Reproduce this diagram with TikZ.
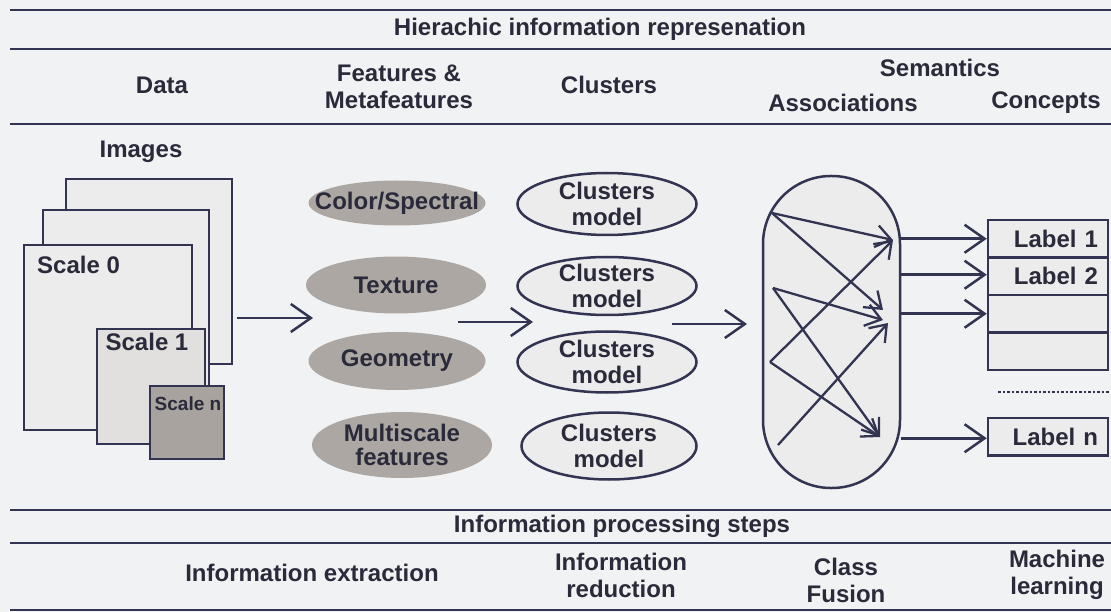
\documentclass[tikz,border=0pt]{standalone}
\usepackage{fontspec}
\setmainfont{Liberation Sans}
\usetikzlibrary{arrows.meta,calc,shapes.geometric}
\definecolor{ink}{RGB}{50,52,82}
\definecolor{txt}{RGB}{42,42,58}
\definecolor{bg}{RGB}{241,242,243}
\definecolor{featfill}{RGB}{172,167,162}
\definecolor{lightbox}{RGB}{236,236,237}
\definecolor{sonefill}{RGB}{226,224,222}
\definecolor{snfill}{RGB}{168,163,158}
\begin{document}
\begin{tikzpicture}[x=1pt,y=-1pt,
  every node/.style={font=\bfseries\fontsize{24}{27}\selectfont, text=txt},
  txtnode/.style={align=center, inner sep=0pt},
  rule/.style={draw=ink, line width=2.5pt},
  frame/.style={draw=ink, line width=2.5pt, fill=lightbox, rectangle, inner sep=0pt},
  feat/.style={ellipse, fill=featfill, inner sep=0pt},
  clus/.style={ellipse, draw=ink, line width=2.5pt, fill=lightbox, inner sep=0pt},
  arr/.style={draw=ink, line width=2.5pt, -{Straight Barb[length=20pt,width=28pt]}},
  iarr/.style={draw=ink, line width=2.3pt, -{Straight Barb[length=15pt,width=22pt]}},
  labbox/.style={rectangle, draw=ink, line width=2.5pt, fill=lightbox, minimum width=120pt, minimum height=37.5pt, text width=100pt, inner xsep=10pt, inner ysep=0pt, align=right}
]
\fill[bg] (0,0) rectangle (1111,612);
\useasboundingbox (0,0) rectangle (1111,612);

% rules
\draw[rule] (10,10) -- (1111,10);
\draw[rule] (10,49) -- (1111,49);
\draw[rule] (10,124) -- (1111,124);
\draw[rule] (10,510) -- (1111,510);
\draw[rule] (10,543) -- (1111,543);
\draw[rule] (10,610) -- (1111,610);

% header texts
\node[txtnode] (title) at (600,29) {Hierachic information represenation};
\node[txtnode] (dataH) at (162,85) {Data};
\node[txtnode] (featH) at (399,87) {Features \&\\Metafeatures};
\node[txtnode] (clusH) at (609,85) {Clusters};
\node[txtnode] (semH) at (940,68) {Semantics};
\node[txtnode] (assocH) at (843,103) {Associations};
\node[txtnode] (concH) at (1046,103) {Concepts};

% images
\node[txtnode] (imagesH) at (141,152) {Images};
\node[frame, minimum width=166pt, minimum height=185pt] (imgback) at (149,271.5) {};
\node[frame, minimum width=166pt, minimum height=190pt] (imgmid) at (126,305) {};
\node[frame, minimum width=168pt, minimum height=185pt] (scale0) at (108,337.5) {};
\node[frame, fill=sonefill, minimum width=108pt, minimum height=115pt] (scale1) at (151,386.5) {};
\node[frame, fill=snfill, minimum width=74pt, minimum height=73pt] (scalen) at (187,422.5) {};
\node[txtnode, anchor=west] (s0lab) at (37,265) {Scale 0};
\node[txtnode] (s1lab) at (147,342) {Scale 1};
\node[txtnode, font=\bfseries\fontsize{19}{22}\selectfont] (snlab) at (188,404) {Scale n};

% features
\node[feat, minimum width=177pt, minimum height=45pt] (f1) at (397,203) {};
\node[feat, minimum width=180pt, minimum height=57pt] (f2) at (396,285) {};
\node[feat, minimum width=177pt, minimum height=58pt] (f3) at (397,361) {};
\node[feat, minimum width=180pt, minimum height=66pt] (f4) at (402,445) {};
\node[txtnode] (f1t) at (f1) {Color/Spectral};
\node[txtnode] (f2t) at (f2) {Texture};
\node[txtnode] (f3t) at (f3) {Geometry};
\node[txtnode, font=\bfseries\fontsize{24}{24}\selectfont] (f4t) at (f4) {Multiscale\\features};

% clusters
\node[clus, minimum width=179pt, minimum height=62pt] (c1) at (607,204) {};
\node[clus, minimum width=179pt, minimum height=58pt] (c2) at (607,286) {};
\node[clus, minimum width=179pt, minimum height=61pt] (c3) at (607,362) {};
\node[clus, minimum width=175pt, minimum height=67pt] (c4) at (609,446) {};
\node[txtnode, font=\bfseries\fontsize{24}{26}\selectfont] (c1t) at (c1) {Clusters\\model};
\node[txtnode, font=\bfseries\fontsize{24}{26}\selectfont] (c2t) at (c2) {Clusters\\model};
\node[txtnode, font=\bfseries\fontsize{24}{26}\selectfont] (c3t) at (c3) {Clusters\\model};
\node[txtnode, font=\bfseries\fontsize{24}{26}\selectfont] (c4t) at (c4) {Clusters\\model};

% flow arrows
\coordinate (a1s) at (237,318);
\coordinate (a1e) at (313,318);
\coordinate (a2s) at (458,322);
\coordinate (a2e) at (533,322);
\coordinate (a3s) at (672,324);
\coordinate (a3e) at (747,324);
\draw[arr] (a1s) -- (a1e);
\draw[arr] (a2s) -- (a2e);
\draw[arr] (a3s) -- (a3e);

% associations capsule
\node[draw=ink, line width=2.5pt, fill=lightbox, rounded corners=68pt, minimum width=137pt, minimum height=312pt, inner sep=0pt] (assoc) at (831.5,332) {};
\coordinate (s1) at (772,213);
\coordinate (s2) at (773,288);
\coordinate (s3) at (770,362);
\coordinate (s4) at (778,445);
\coordinate (t1) at (893,240);
\coordinate (m1) at (883,310);
\coordinate (m2) at (883,320);
\coordinate (m3) at (888,323);
\coordinate (t3) at (880,437);
\draw[iarr] (s1) -- (t1);
\draw[iarr] (s1) -- (m1);
\draw[iarr] (s2) -- (m2);
\draw[iarr] (s2) -- (t3);
\draw[iarr] (s3) -- (t1);
\draw[iarr] (s3) -- (t3);
\draw[iarr] (s4) -- (m3);

% concept labels
\node[labbox] (lab1) at (1048,238.75) {Label 1};
\node[labbox] (lab2) at (1048,276.25) {Label 2};
\node[labbox] (lab3) at (1048,313.75) {};
\node[labbox] (lab4) at (1048,351.25) {};
\node[labbox] (labn) at (1048,436.75) {Label n};
\coordinate (dotl) at (998,392);
\coordinate (dotr) at (1110,392);
\draw[ink, line width=2.5pt, dotted] (dotl) -- (dotr);
\draw[arr] (lab1.west -| assoc.east) -- (lab1.west);
\draw[arr] ([yshift=1.5pt]lab2.west -| assoc.east) -- ([yshift=1.5pt]lab2.west);
\draw[arr] (lab3.west -| assoc.east) -- (lab3.west);
\draw[arr] ([yshift=-1.5pt]labn.west -| assoc.east) -- ([yshift=-1.5pt]labn.west);

% bottom texts
\node[txtnode] (ipsH) at (622,526) {Information processing steps};
\node[txtnode] (iext) at (312,573) {Information extraction};
\node[txtnode] (ired) at (621,575) {Information\\reduction};
\node[txtnode] (cfus) at (846,580) {Class\\Fusion};
\node[txtnode] (mlearn) at (1057,575) {Machine\\learning};
\end{tikzpicture}
\end{document}
